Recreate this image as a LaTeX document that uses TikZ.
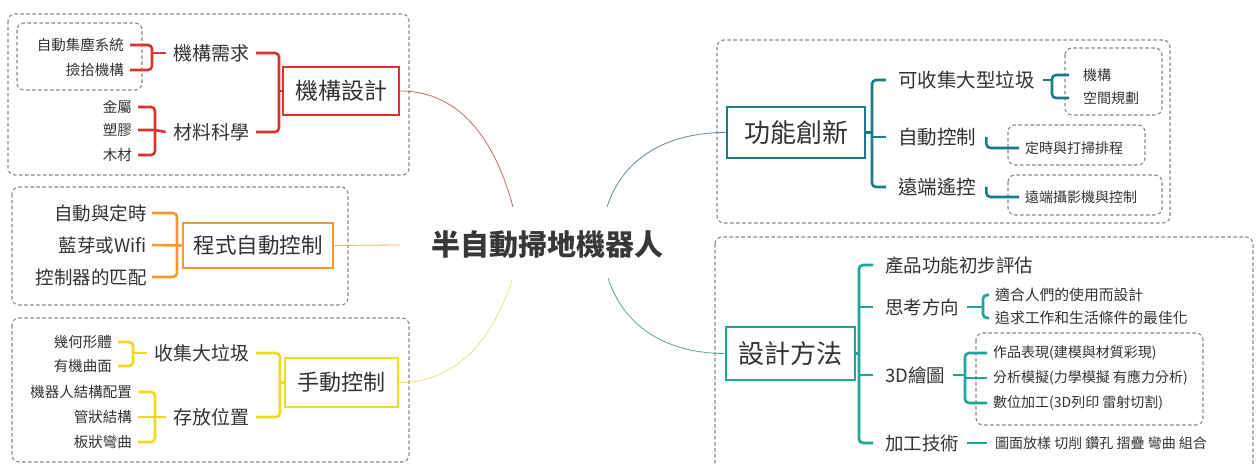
\documentclass[tikz,border=0pt]{standalone}
\usepackage{fontspec}
\setmainfont{Noto Sans CJK TC}
\usetikzlibrary{calc}
\definecolor{cRed}{HTML}{D8342A}
\definecolor{cOrg}{HTML}{F29A2E}
\definecolor{cYel}{HTML}{F1D91E}
\definecolor{cTeal}{HTML}{1B7C89}
\definecolor{cTealB}{HTML}{1BA69A}
\definecolor{txt}{HTML}{333333}
\definecolor{dgray}{HTML}{8A8A8A}
\definecolor{lRed}{HTML}{C86A64}
\definecolor{lOrg}{HTML}{E6B27A}
\definecolor{lYel}{HTML}{E9E27A}
\definecolor{lTeal}{HTML}{5A8E98}
\definecolor{lTealB}{HTML}{5AA6A0}
\begin{document}
\begin{tikzpicture}[x=1pt,y=-1pt,
  every node/.style={text=txt, inner sep=0pt},
  fs/.style={font=\fontsize{#1}{#1}\selectfont},
  dbox/.style={draw=dgray, dash pattern=on 3.5pt off 2.5pt, line width=1.1pt, rounded corners=7pt},
  brk/.style={draw=#1, line width=2.6pt, rounded corners=4pt},
  mbox/.style={draw=#1, line width=2.6pt},
  link/.style={draw=#1, line width=0.8pt}]
\useasboundingbox (0,0) rectangle (1259,465);
\clip (0,0) rectangle (1259,465);
\fill[white] (0,0) rectangle (1259,465);

% ---------- dashed frames ----------
\draw[dbox] (8,14) rectangle (409,175);
\draw[dbox] (17,23) rectangle (142,90);
\draw[dbox] (12,187) rectangle (348,305);
\draw[dbox] (12,318) rectangle (409,462);
\draw[dbox] (717,40) rectangle (1170,223);
\draw[dbox] (1065,48) rectangle (1162,115);
\draw[dbox] (1008,125) rectangle (1145,165);
\draw[dbox] (1008,175) rectangle (1162,215);
\draw[dbox] (715,237) rectangle (1253,490);
\draw[dbox] (976,333) rectangle (1203,425);

% ---------- centre ----------
\node[fs=29, font=\bfseries\fontsize{29}{29}\selectfont, text=black!78] (C) at (547,245) {半自動掃地機器人};
\coordinate (cR) at ($(C.center)+(-34,-38)$);
\coordinate (cT) at ($(C.center)+(60,-38)$);
\coordinate (cY) at ($(C.center)+(-35,35)$);
\coordinate (cB) at ($(C.center)+(61,33)$);
\coordinate (cO) at ($(C.center)+(-147,0)$);

% ---------- 機構設計 ----------
\node[fs=23, mbox=cRed, minimum width=116, minimum height=48] (P1) at (341,91) {機構設計};
\node[fs=14.5, anchor=east] (a1) at (124,45) {自動集塵系統};
\node[fs=14.5, anchor=east] (a2) at (124,70) {撿拾機構};
\node[fs=19, anchor=east] (m1) at (250,53) {機構需求};
\node[fs=14.5, anchor=east] (b1) at (132,107) {金屬};
\node[fs=14.5, anchor=east] (b2) at (132,130) {塑膠};
\node[fs=14.5, anchor=east] (b3) at (132,155) {木材};
\node[fs=19, anchor=east] (m2) at (250,132) {材料科學};
\coordinate (s1) at (152,0);
\coordinate (s2) at (155,0);
\coordinate (s3) at (279,0);
\draw[brk=cRed] ([xshift=6]a1.east) -- (s1 |- a1.east) -- (s1 |- a2.east) -- ([xshift=6]a2.east);
\draw[brk=cRed] (s1 |- m1.west) -- ([xshift=-8]m1.west);
\draw[brk=cRed] ([xshift=6]b1.east) -- (s2 |- b1.east) -- (s2 |- b3.east) -- ([xshift=6]b3.east);
\draw[brk=cRed] ([xshift=6]b2.east) -- (s2 |- b2.east) -- ([xshift=-8]m2.west);
\draw[brk=cRed] ([xshift=6]m1.east) -- (s3 |- m1.east) -- (s3 |- m2.east) -- ([xshift=6]m2.east);
\draw[brk=cRed] (s3 |- P1.west) -- (P1.west);

% ---------- 程式自動控制 ----------
\node[fs=21.5, mbox=cOrg, minimum width=150, minimum height=45] (P2) at (258,245.5) {程式自動控制};
\node[fs=18.5, anchor=east] (c1) at (147,213) {自動與定時};
\node[fs=18.5, anchor=east] (c2) at (147,245) {藍芽或Wifi};
\node[fs=18.5, anchor=east] (c3) at (147,277) {控制器的匹配};
\coordinate (s4) at (177,0);
\draw[brk=cOrg] ([xshift=5]c1.east) -- (s4 |- c1.east) -- (s4 |- c3.east) -- ([xshift=5]c3.east);
\draw[brk=cOrg] ([xshift=5]c2.east) -- (P2.west);

% ---------- 手動控制 ----------
\node[fs=22, mbox=cYel, minimum width=113, minimum height=49] (P3) at (341.5,382.5) {手動控制};
\node[fs=14.5, anchor=east] (d1) at (112,342) {幾何形體};
\node[fs=14.5, anchor=east] (d2) at (112,366) {有機曲面};
\node[fs=19, anchor=east] (m3) at (250,353) {收集大垃圾};
\node[fs=14.5, anchor=east] (e1) at (132,392) {機器人結構配置};
\node[fs=14.5, anchor=east] (e2) at (132,417) {管狀結構};
\node[fs=14.5, anchor=east] (e3) at (132,442) {板狀彎曲};
\node[fs=19, anchor=east] (m4) at (250,417) {存放位置};
\coordinate (s5) at (133,0);
\coordinate (s6) at (155,0);
\coordinate (s7) at (280,0);
\draw[brk=cYel] ([xshift=6]d1.east) -- (s5 |- d1.east) -- (s5 |- d2.east) -- ([xshift=6]d2.east);
\draw[brk=cYel] (s5 |- m3.west) -- ([xshift=-8]m3.west);
\draw[brk=cYel] ([xshift=6]e1.east) -- (s6 |- e1.east) -- (s6 |- e3.east) -- ([xshift=6]e3.east);
\draw[brk=cYel] ([xshift=6]e2.east) -- ([xshift=-8]m4.west);
\draw[brk=cYel] ([xshift=6]m3.east) -- (s7 |- m3.east) -- (s7 |- m4.east) -- ([xshift=6]m4.east);
\draw[brk=cYel] (s7 |- P3.west) -- (P3.west);

% ---------- 功能創新 ----------
\node[fs=26, mbox=cTeal, minimum width=138, minimum height=51] (R1) at (796,132.5) {功能創新};
\node[fs=19.5, anchor=west] (f1) at (898,80) {可收集大型垃圾};
\node[fs=19.5, anchor=west] (f2) at (898,137) {自動控制};
\node[fs=19.5, anchor=west] (f3) at (898,187) {遠端遙控};
\node[fs=14, anchor=west] (g1) at (1083,75) {機構};
\node[fs=14, anchor=west] (g2) at (1083,98) {空間規劃};
\node[fs=14, anchor=west] (g3) at (1025,148) {定時與打掃排程};
\node[fs=14, anchor=west] (g4) at (1025,197) {遠端攝影機與控制};
\coordinate (t1) at (872,0);
\coordinate (u1) at (1052,0);
\draw[brk=cTeal] ([xshift=-12]f1.west) -- (t1 |- f1.west) -- (t1 |- f3.west) -- ([xshift=-12]f3.west);
\draw[brk=cTeal] ([xshift=-12]f2.west) -- (t1 |- f2.west);
\draw[brk=cTeal] (R1.east) -- (t1 |- R1.east);
\draw[brk=cTeal] ([xshift=-14]g1.west) -- (u1 |- g1.west) -- (u1 |- g2.west) -- ([xshift=-14]g2.west);
\draw[brk=cTeal] ([xshift=8]f1.east) -- (u1 |- f1.east);
\draw[brk=cTeal] ([xshift=10]f2.east) |- ([xshift=-6]g3.west);
\draw[brk=cTeal] ([xshift=10]f3.east) |- ([xshift=-6]g4.west);

% ---------- 設計方法 ----------
\node[fs=26, mbox=cTealB, minimum width=129, minimum height=53] (R2) at (790.5,353.5) {設計方法};
\node[fs=18.5, anchor=west] (h1) at (885,265) {產品功能初步評估};
\node[fs=18.5, anchor=west] (h2) at (885,307) {思考方向};
\node[fs=18.5, anchor=west] (h3) at (885,375) {3D繪圖};
\node[fs=18.5, anchor=west] (h4) at (885,443) {加工技術};
\node[fs=14.8, anchor=west] (k1) at (995,295) {適合人們的使用而設計};
\node[fs=14.8, anchor=west] (k2) at (995,318) {追求工作和生活條件的最佳化};
\node[fs=14, anchor=west] (l1) at (993,353) {作品表現(建模與材質彩現)};
\node[fs=14, anchor=west] (l2) at (993,378) {分析模擬(力學模擬 有應力分析)};
\node[fs=14, anchor=west] (l3) at (993,403) {數位加工(3D列印 雷射切割)};
\node[fs=14, anchor=west] (n1) at (995,443) {圖面放樣 切削 鑽孔 摺疊 彎曲 組合};
\coordinate (t2) at (859,0);
\coordinate (u2) at (983,0);
\coordinate (u3) at (965,0);
\draw[brk=cTealB] ([xshift=-12]h1.west) -- (t2 |- h1.west) -- (t2 |- h4.west) -- ([xshift=-12]h4.west);
\draw[brk=cTealB] ([xshift=-12]h2.west) -- (t2 |- h2.west);
\draw[brk=cTealB] ([xshift=-12]h3.west) -- (t2 |- h3.west);
\draw[brk=cTealB] (R2.east) -- (t2 |- R2.east);
\draw[brk=cTealB] ([xshift=-6]k1.west) -- (u2 |- k1.west) -- (u2 |- k2.west) -- ([xshift=-6]k2.west);
\draw[brk=cTealB] ([xshift=8]h2.east) -- (u2 |- h2.east);
\draw[brk=cTealB] ([xshift=-6]l1.west) -- (u3 |- l1.west) -- (u3 |- l3.west) -- ([xshift=-6]l3.west);
\draw[brk=cTealB] ([xshift=-6]l2.west) -- (u3 |- l2.west);
\draw[brk=cTealB] ([xshift=8]h3.east) -- (u3 |- h3.east);
\draw[brk=cTealB] ([xshift=8]h4.east) -- ([xshift=-8]n1.west);

% ---------- links to centre ----------
\draw[link=lRed] (P1.east) to[out=0, in=105] (cR);
\draw[link=lOrg] (P2.east) -- (cO);
\draw[link=lYel] (P3.east) to[out=0, in=-108] (cY);
\draw[link=lTeal] (cT) to[out=72, in=180] (R1.west);
\draw[link=lTealB] (cB) to[out=-72, in=180] (R2.west);
\end{tikzpicture}
\end{document}
